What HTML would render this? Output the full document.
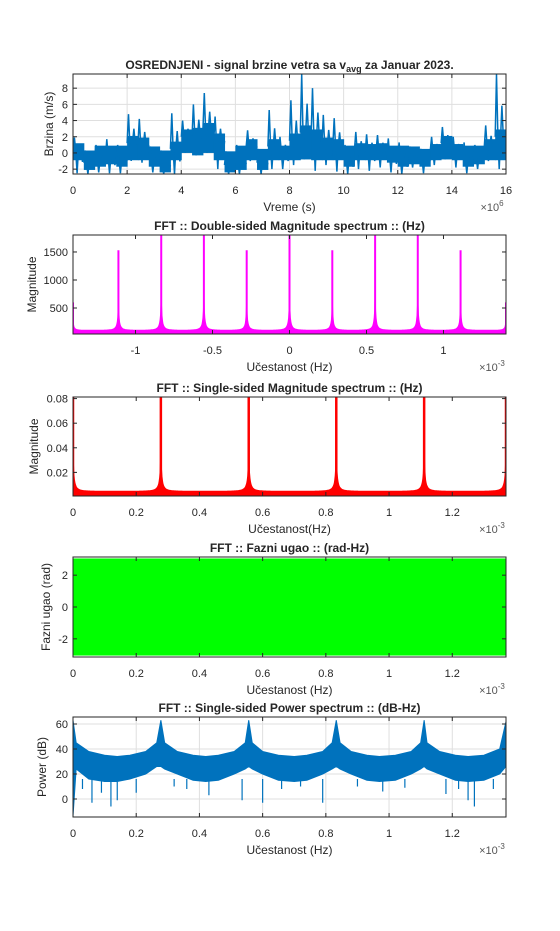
<!DOCTYPE html>
<html><head><meta charset="utf-8"><style>
html,body{margin:0;padding:0;background:#fff;}
svg{display:block;font-family:"Liberation Sans",Arial,sans-serif;}
</style></head><body>
<svg id="fig" width="560" height="931" viewBox="0 0 560 931" xmlns="http://www.w3.org/2000/svg">
<rect x="0" y="0" width="560" height="931" fill="#fff"/>
</svg>
<script>
// ---- Data: time signal envelope (bins of 0.4e6 s) ----
const sigBinStart = [0,0.4,0.8,1.2,1.6,2.0,2.4,2.8,3.2,3.6,4.0,4.4,4.8,5.2,5.6,6.0,6.4,6.8,7.2,7.6,8.0,8.4,8.8,9.2,9.6,10.0,10.4,10.8,11.2,11.6,12.0,12.4,12.8,13.2,13.6,14.0,14.4,14.8,15.2,15.6];
const sigMax = [1.9,0.3,1.0,1.7,1.0,4.8,4.2,0.8,0.3,4.9,4.0,6.0,7.4,4.5,0.2,1.0,2.8,0.5,5.3,2.0,6.5,9.7,8.0,4.7,4.3,1.0,2.6,2.3,2.2,1.8,1.3,0.8,0.5,2.0,3.2,2.0,1.3,1.0,3.4,9.7];
const sigMin = [-2.5,-2.6,-2.4,-2.5,-2.5,-1.0,-1.2,-2.4,-2.6,-2.6,0,-0.3,0,-2.0,-2.6,-2.6,-1.0,-2.6,-2.0,-2.0,-1.5,-0.8,-2.2,-1.5,-2.3,-2.6,-2.0,-2.2,-1.8,-2.4,-2.6,-1.8,-2.5,-1.5,-0.8,-1.8,-2.5,-2.0,-1.0,-2.0];
const sigMid = [0.3,-1.2,-0.8,-0.5,-0.8,1.2,1.0,-0.8,-1.5,0.5,2.0,2.2,2.8,1.5,-1.5,-1.2,0.8,-1.2,0.8,0.0,1.5,2.5,2.0,1.0,0.8,-0.8,0.3,0.2,0.3,-0.3,-0.8,-0.5,-0.8,0.2,1.2,0.2,-0.8,-0.5,0.8,2.0];
// ---- Double-sided magnitude ----
const dsFreq = [-1.406,-1.111,-0.833,-0.556,-0.278,0,0.278,0.556,0.833,1.111,1.406];
const dsMag = [600,1530,1850,1850,1530,1850,1530,1850,1850,1530,600];
const dsFloor = [110];
// ---- Single-sided magnitude ----
const ssFreq = [0,0.278,0.556,0.833,1.111,1.37];
const ssMag = [0.09,0.09,0.09,0.09,0.09,0.09];
const ssFloor = [0.005];
// ---- Phase ----
const phaseBand = [-3.05,3.05];
// ---- Power spectrum (dB) envelope ----
const psFreq = [0,0.01,0.05,0.1,0.14,0.18,0.23,0.265,0.278,0.29,0.33,0.38,0.42,0.46,0.51,0.545,0.556,0.567,0.6,0.65,0.7,0.74,0.79,0.82,0.833,0.845,0.88,0.93,0.97,1.02,1.07,1.10,1.111,1.12,1.16,1.21,1.25,1.3,1.35,1.37];
const psUpper = [63,45,38,35,34,35,38,45,63,45,38,35,34,35,38,45,63,45,38,35,34,35,38,45,63,45,38,35,34,35,38,45,63,45,38,35,34,35,40,62];
const psLower = [-14,24,16,14,14,16,20,26,26,24,20,15,14,15,20,24,26,24,20,15,14,15,20,24,26,24,20,15,14,15,20,24,26,24,20,15,14,15,20,26];
const psDipFreq = [0.03,0.06,0.09,0.12,0.14,0.2,0.32,0.36,0.43,0.535,0.6,0.66,0.72,0.79,0.9,0.98,1.05,1.18,1.22,1.25,1.27,1.33];
const psDipVal = [8,-3,5,-6,-1,5,10,8,3,-1,-3,8,10,-3,10,6,9,4,8,-1,-6,8];

const NS='http://www.w3.org/2000/svg';
const fig=document.getElementById('fig');
function mk(tag,attrs,parent){const e=document.createElementNS(NS,tag);for(const k in attrs)e.setAttribute(k,attrs[k]);(parent||fig).appendChild(e);return e;}
function txt(s,x,y,size,anchor,weight,parent){const t=mk('text',{x:x,y:y,'font-size':size,'text-anchor':anchor||'middle','font-weight':weight||'normal',fill:'#262626'},parent);t.textContent=s;return t;}

function makeAxes(o){
  const g=mk('g',{});
  
  
  const sx=v=>o.L+(v-o.x0)/(o.x1-o.x0)*(o.R-o.L);
  const sy=v=>o.B-(v-o.y0)/(o.y1-o.y0)*(o.B-o.T);
  mk('rect',{x:o.L,y:o.T,width:o.R-o.L,height:o.B-o.T,fill:'#fff'},g);
  if(o.grid){
    o.xt.forEach(v=>mk('line',{x1:sx(v),x2:sx(v),y1:o.T,y2:o.B,stroke:'#dfdfdf','stroke-width':1},g));
    o.yt.forEach(v=>mk('line',{x1:o.L,x2:o.R,y1:sy(v),y2:sy(v),stroke:'#dfdfdf','stroke-width':1},g));
  }
  const plot=mk('g',{},g);
  
  
  const cid='clip'+o.name;
  const cp=mk('clipPath',{id:cid},g);mk('rect',{x:o.L,y:o.T,width:o.R-o.L,height:o.B-o.T},cp);
  plot.setAttribute('clip-path','url(#'+cid+')');
  o.draw(plot,sx,sy);
  mk('rect',{x:o.L,y:o.T,width:o.R-o.L,height:o.B-o.T,fill:'none',stroke:'#262626','stroke-width':1},g);
  o.xt.forEach((v,i)=>{const x=sx(v);mk('line',{x1:x,x2:x,y1:o.B,y2:o.B-4,stroke:'#262626'},g);mk('line',{x1:x,x2:x,y1:o.T,y2:o.T+4,stroke:'#262626'},g);
    const t=txt(o.xl[i],x,o.B+20,11,'middle','normal',g);});
  o.yt.forEach((v,i)=>{const y=sy(v);mk('line',{x1:o.L,x2:o.L+4,y1:y,y2:y,stroke:'#262626'},g);mk('line',{x1:o.R,x2:o.R-4,y1:y,y2:y,stroke:'#262626'},g);
    const t=txt(o.yl[i],o.L-5,y+4,11,'end','normal',g);});
  const tt=txt('',(o.L+o.R)/2,o.T-5,12,'middle','bold',g);
  if(o.titleSub){tt.appendChild(document.createTextNode(o.title));const ts=mk('tspan',{'font-size':9,dy:3},tt);ts.textContent='avg';const t2=mk('tspan',{dy:-3},tt);t2.textContent=' za Januar 2023.';}
  else tt.textContent=o.title;
  const xl=txt(o.xlabel,(o.L+o.R)/2,o.B+37,12,'middle','normal',g);
  const yl=txt(o.ylabel,0,0,12,'middle','normal',g);yl.setAttribute('transform','translate('+(o.ylx)+','+((o.T+o.B)/2)+') rotate(-90)');
  
  const ex=txt('\u00d710',o.R-14,o.B+37,11,'middle','normal',g);ex.setAttribute('fill','#555');
  const es=mk('tspan',{'font-size':8,dy:-5},ex);es.textContent=o.exp;
  
}
function rng(a,b,s){const r=[];for(let v=a;v<=b+1e-9;v+=s)r.push(Math.round(v*1000)/1000);return r;}

// Plot 1
makeAxes({name:'signal-plot',L:73,R:506,T:74,B:174,x0:0,x1:16,y0:-2.6,y1:9.75,grid:true,
 xt:rng(0,16,2),xl:rng(0,16,2).map(String),yt:[-2,0,2,4,6,8],yl:['-2','0','2','4','6','8'],
 title:'OSREDNJENI - signal brzine vetra sa v',titleSub:true,xlabel:'Vreme (s)',ylabel:'Brzina (m/s)',ylx:53,exp:'6',
 draw:(g,sx,sy)=>{
  sigBinStart.forEach((s,i)=>{
    const top=sigMid[i]>=0?sigMid[i]:0, bot=sigMid[i]<0?sigMid[i]:0;
    const t=Math.min(sigMax[i],top+0.9), b=Math.max(sigMin[i],bot-0.9);
    const bar=mk('rect',{x:sx(s),width:sx(s+0.4)-sx(s)+0.5,y:sy(t),height:sy(b)-sy(t),fill:'#0072BD'},g);
    
    let pts=[];
    const a=sx(s),w=sx(s+0.4)-a;
    const seq=[sigMid[i],sigMax[i],sigMid[i],sigMin[i],sigMid[i],(sigMax[i]+sigMid[i])/2,sigMid[i],(sigMin[i]+sigMid[i])/2,sigMid[i]];
    seq.forEach((v,k)=>pts.push((a+w*k/(seq.length-1)).toFixed(1)+','+sy(v).toFixed(1)));
    const pl=mk('polyline',{points:pts.join(' '),fill:'none',stroke:'#0072BD','stroke-width':1.5},g);
    
  });
 }});

function spectrum(sx,sy,freqs,mags,floor,x0,x1,w){
  const n=900;let arr=[];
  for(let k=0;k<=n;k++){const f=x0+(x1-x0)*k/n;let v=floor;
    freqs.forEach((f0,i)=>{const r=w/(w+Math.abs(f-f0));const s=floor+(mags[i]-floor)*r*r;if(s>v)v=s;});
    arr.push(sx(f).toFixed(1)+','+sy(v).toFixed(1));}
  return arr;
}
// Plot 2
makeAxes({name:'double-sided-magnitude',L:73,R:506,T:235,B:334,x0:-1.406,x1:1.406,y0:36,y1:1803,grid:false,
 xt:[-1,-0.5,0,0.5,1],xl:['-1','-0.5','0','0.5','1'],yt:[500,1000,1500],yl:['500','1000','1500'],
 title:'FFT  :: Double-sided Magnitude spectrum :: (Hz)',xlabel:'U\u010destanost (Hz)',ylabel:'Magnitude',ylx:36,exp:'-3',
 draw:(g,sx,sy)=>{
  const arr=spectrum(sx,sy,dsFreq,dsMag,dsFloor[0],-1.406,1.406,0.005);
  const p=mk('polygon',{points:sx(-1.406)+','+sy(0)+' '+arr.join(' ')+' '+sx(1.406)+','+sy(0),fill:'#FF00FF'},g);
  
  dsFreq.forEach((f,i)=>{const l=mk('line',{x1:sx(f),x2:sx(f),y1:sy(0),y2:sy(dsMag[i]),stroke:'#FF00FF','stroke-width':2},g);
    });
 }});
// Plot 3
makeAxes({name:'single-sided-magnitude',L:73,R:506,T:397,B:496,x0:0,x1:1.37,y0:0.0008,y1:0.0813,grid:false,
 xt:[0,0.2,0.4,0.6,0.8,1,1.2],xl:['0','0.2','0.4','0.6','0.8','1','1.2'],yt:[0.02,0.04,0.06,0.08],yl:['0.02','0.04','0.06','0.08'],
 title:'FFT  :: Single-sided Magnitude spectrum :: (Hz)',xlabel:'U\u010destanost(Hz)',ylabel:'Magnitude',ylx:38,exp:'-3',
 draw:(g,sx,sy)=>{
  const arr=spectrum(sx,sy,ssFreq,ssMag,ssFloor[0],0,1.37,0.003);
  const p=mk('polygon',{points:sx(0)+','+sy(0)+' '+arr.join(' ')+' '+sx(1.37)+','+sy(0),fill:'#FF0000'},g);
  
  ssFreq.forEach((f,i)=>{const l=mk('line',{x1:sx(f),x2:sx(f),y1:sy(0),y2:sy(ssMag[i]),stroke:'#FF0000','stroke-width':2.5},g);
    });
 }});
// Plot 4
makeAxes({name:'phase-plot',L:73,R:506,T:557,B:657,x0:0,x1:1.37,y0:-Math.PI,y1:Math.PI,grid:false,
 xt:[0,0.2,0.4,0.6,0.8,1,1.2],xl:['0','0.2','0.4','0.6','0.8','1','1.2'],yt:[-2,0,2],yl:['-2','0','2'],
 title:'FFT  :: Fazni ugao :: (rad-Hz)',xlabel:'U\u010destanost (Hz)',ylabel:'Fazni ugao (rad)',ylx:50,exp:'-3',
 draw:(g,sx,sy)=>{
  const r=mk('rect',{x:sx(0),width:sx(1.37)-sx(0),y:sy(phaseBand[1]),height:sy(phaseBand[0])-sy(phaseBand[1]),fill:'#00FF00'},g);
  
 }});
// Plot 5
makeAxes({name:'power-spectrum',L:73,R:506,T:717,B:817,x0:0,x1:1.37,y0:-14.4,y1:65.6,grid:true,
 xt:[0,0.2,0.4,0.6,0.8,1,1.2],xl:['0','0.2','0.4','0.6','0.8','1','1.2'],yt:[0,20,40,60],yl:['0','20','40','60'],
 title:'FFT  :: Single-sided Power spectrum :: (dB-Hz)',xlabel:'U\u010destanost (Hz)',ylabel:'Power (dB)',ylx:46,exp:'-3',
 draw:(g,sx,sy)=>{
  let pts=psFreq.map((f,i)=>sx(f)+','+sy(psUpper[i]));
  for(let i=psFreq.length-1;i>=0;i--)pts.push(sx(psFreq[i])+','+sy(psLower[i]));
  const p=mk('polygon',{points:pts.join(' '),fill:'#0072BD','stroke':'#0072BD','stroke-width':1},g);
  
  psDipFreq.forEach((f,i)=>{const l=mk('line',{x1:sx(f),x2:sx(f),y1:sy(16),y2:sy(psDipVal[i]),stroke:'#0072BD','stroke-width':1.2},g);
    });
 }});
</script>
</body></html>
